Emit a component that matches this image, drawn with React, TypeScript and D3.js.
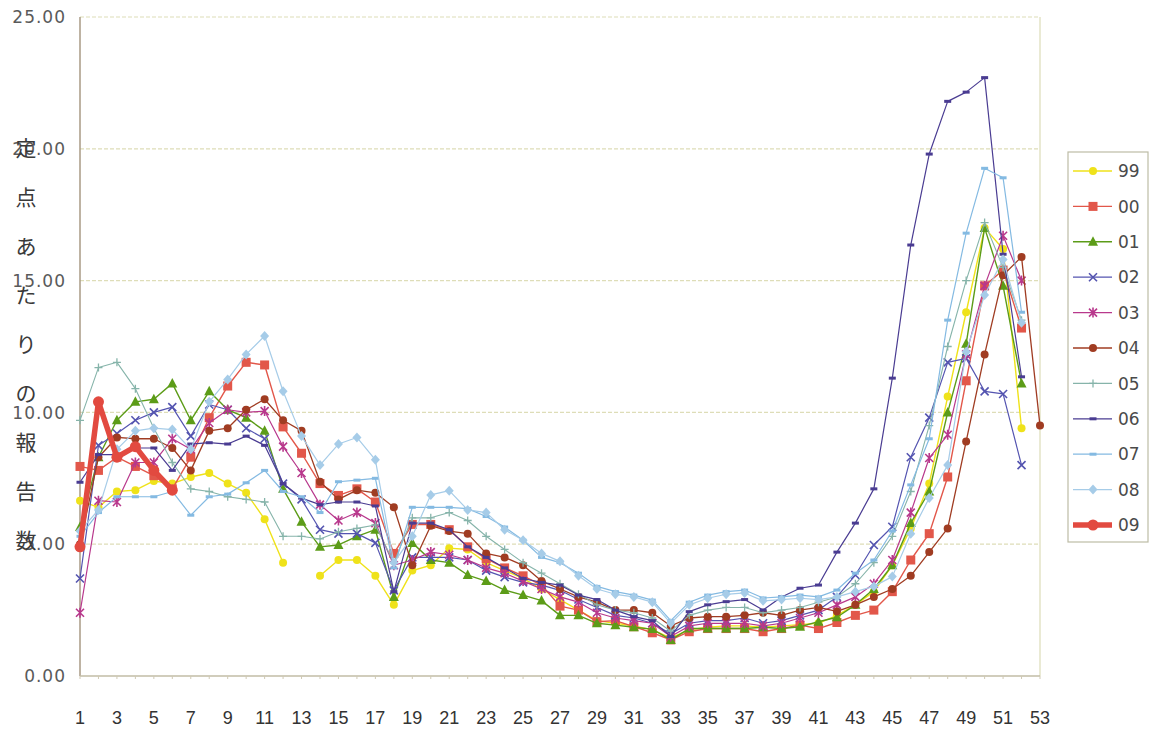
import React from "react";
import * as d3 from "d3";

const weeks = [1,2,3,4,5,6,7,8,9,10,11,12,13,14,15,16,17,18,19,20,21,22,23,24,25,26,27,28,29,30,31,32,33,34,35,36,37,38,39,40,41,42,43,44,45,46,47,48,49,50,51,52,53];
const xTickLabels = [1,3,5,7,9,11,13,15,17,19,21,23,25,27,29,31,33,35,37,39,41,43,45,47,49,51,53];
const yTicks = [0, 5, 10, 15, 20, 25];
const yTitle = "定点あたりの報告数";

const s99 = [6.65,6.4,7.0,7.05,7.4,7.3,7.55,7.7,7.3,6.95, 5.95,4.3,null,3.8,4.4,4.4,3.8,2.7,4.0,4.2, 4.85,4.8,4.3,4.0,3.7,3.3,2.9,2.5,2.1,2.0, 1.9,1.75,1.45,1.75,1.85,1.9,1.9,1.85,1.9,1.95, 2.0,2.3,2.7,3.2,4.2,5.6,7.3,10.6,13.8,17.0, 16.2,9.4,null];
const s00 = [7.95,7.8,8.3,7.95,7.6,7.1,8.3,9.8,11.0,11.9, 11.8,9.45,8.45,7.3,6.85,7.1,6.6,4.65,5.75,5.75, 5.55,4.9,4.45,4.1,3.8,3.45,2.65,2.5,2.06,2.1, 1.87,1.64,1.37,1.68,1.8,1.8,1.8,1.68,1.8,1.93, 1.8,2.03,2.3,2.5,3.2,4.4,5.4,7.55,11.2,14.8, 15.4,13.2,null];
const s01 = [5.65,8.3,9.7,10.4,10.5,11.1,9.7,10.8,10.1,9.8, 9.3,7.1,5.85,4.9,4.97,5.3,5.55,3.0,5.05,4.4, 4.3,3.83,3.6,3.26,3.07,2.86,2.3,2.3,2.0,1.93, 1.85,1.78,1.37,1.8,1.8,1.8,1.8,1.85,1.8,1.87, 2.06,2.23,2.7,3.3,4.2,5.8,7.0,10.0,12.6,17.0, 14.8,11.1,null];
const s02 = [3.7,8.75,9.2,9.7,10.0,10.2,9.1,10.3,10.1,9.4, 9.0,7.3,6.7,5.55,5.4,5.4,5.05,3.25,4.5,4.5, 4.5,4.4,4.0,3.75,3.55,3.45,3.25,2.9,2.6,2.3, 2.2,2.0,1.6,2.0,2.1,2.1,2.2,2.0,2.1,2.3, 2.5,3.0,3.83,4.97,5.66,8.3,9.8,11.9,12.05,10.8, 10.7,8.0,null];
const s03 = [2.4,6.65,6.6,8.1,8.1,9.0,8.6,9.6,10.1,10.0, 10.05,8.7,7.7,6.5,5.9,6.2,5.8,4.2,4.4,4.7, 4.6,4.4,4.1,3.9,3.6,3.3,3.0,2.8,2.4,2.2, 2.1,2.0,1.5,1.9,2.0,2.0,2.0,1.9,2.0,2.2, 2.4,2.7,3.0,3.5,4.4,6.2,8.27,9.15,12.2,14.8, 16.7,15.0,null];
const s04 = [5.0,8.3,9.05,9.0,9.0,8.65,7.8,9.3,9.4,10.1, 10.5,9.7,9.3,7.37,6.7,7.05,6.95,6.4,4.2,5.7, 5.5,5.4,4.65,4.5,4.2,3.6,3.3,3.0,2.8,2.5, 2.5,2.4,1.9,2.2,2.25,2.25,2.3,2.4,2.3,2.5, 2.6,2.45,2.7,3.0,3.3,3.8,4.7,5.6,8.9,12.2, 15.2,15.9,9.5];
const s05 = [9.7,11.7,11.9,10.9,9.4,8.1,7.1,7.0,6.8,6.7, 6.6,5.3,5.3,5.2,5.47,5.6,5.73,4.3,6.0,6.0, 6.2,5.9,5.3,4.8,4.3,3.9,3.5,3.1,2.7,2.5, 2.4,2.2,1.7,2.3,2.5,2.6,2.6,2.4,2.5,2.6, 2.8,3.0,3.5,4.3,5.3,7.0,9.5,12.5,15.0,17.2, 15.5,13.5,null];
const s06 = [7.35,8.4,8.4,8.65,8.65,7.8,8.8,8.85,8.8,9.1, 8.75,7.3,6.75,6.5,6.6,6.6,6.45,3.2,5.8,5.8, 5.55,4.9,4.5,4.1,3.7,3.55,3.45,3.07,2.9,2.5, 2.25,2.1,1.5,2.44,2.7,2.82,2.9,2.5,3.0,3.33, 3.45,4.7,5.8,7.1,11.3,16.35,19.8,21.8,22.15,22.7, 16.0,11.35,null];
const s07 = [5.3,6.2,6.8,6.8,6.8,7.0,6.1,6.8,6.9,7.33, 7.8,7.0,6.8,6.2,7.37,7.43,7.5,4.1,6.4,6.4, 6.4,6.35,6.05,5.65,5.15,4.5,4.3,3.9,3.4,3.2, 3.07,2.88,2.1,2.8,3.07,3.2,3.26,2.96,3.0,3.07, 3.0,3.26,3.9,4.4,5.5,7.25,9.0,13.5,16.8,19.26, 18.9,13.8,null];
const s08 = [5.5,6.3,8.6,9.3,9.4,9.35,8.6,10.4,11.25,12.2, 12.9,10.8,9.1,8.0,8.8,9.05,8.2,4.3,5.3,6.87, 7.03,6.3,6.2,5.55,5.15,4.65,4.35,3.8,3.3,3.1, 3.0,2.8,2.0,2.7,2.95,3.1,3.15,2.85,2.9,2.95, 2.9,3.0,3.2,3.4,3.77,5.4,6.75,8.0,12.3,14.45, 15.8,13.4,null];
const s09 = [4.9,10.4,8.3,8.7,7.8,7.05,null,null,null,null, null,null,null,null,null,null,null,null,null,null, null,null,null,null,null,null,null,null,null,null, null,null,null,null,null,null,null,null,null,null, null,null,null,null,null,null,null,null,null,null, null,null,null];

const seriesNames = ["99","00","01","02","03","04","05","06","07","08","09"];
const seriesData = [s99, s00, s01, s02, s03, s04, s05, s06, s07, s08, s09];
const seriesColors = ["#efe21a","#e2574a","#5c9c18","#5454b0","#b8388c","#a03c22","#86b4aa","#4a3c92","#84bae2","#a6cce8","#e24a40"];
const seriesMarkers = ["circle","square","triangle","x","star","circle","plus","dash","dash","diamond","bigcircle"];
const seriesWidths = [1.4,1.4,1.4,1.2,1.2,1.3,1.1,1.2,1.2,1.2,5.5];

const W = 1155, H = 730;
const L = 80, R = 1040, T = 17, B = 676;

function Marker({ kind, cx, cy, color }: { kind: string; cx: number; cy: number; color: string }) {
  switch (kind) {
    case "circle":
      return <circle cx={cx} cy={cy} r={4} fill={color} />;
    case "bigcircle":
      return <circle cx={cx} cy={cy} r={5.5} fill={color} />;
    case "square":
      return <rect x={cx - 4.5} y={cy - 4.5} width={9} height={9} fill={color} />;
    case "triangle":
      return <path d={`M${cx},${cy - 5.5}L${cx + 5},${cy + 4}L${cx - 5},${cy + 4}Z`} fill={color} />;
    case "diamond":
      return <path d={`M${cx},${cy - 5}L${cx + 4.5},${cy}L${cx},${cy + 5}L${cx - 4.5},${cy}Z`} fill={color} />;
    case "x":
      return <path d={`M${cx - 4},${cy - 4}L${cx + 4},${cy + 4}M${cx + 4},${cy - 4}L${cx - 4},${cy + 4}`} stroke={color} strokeWidth={1.6} />;
    case "star":
      return <path d={`M${cx - 4},${cy - 4}L${cx + 4},${cy + 4}M${cx + 4},${cy - 4}L${cx - 4},${cy + 4}M${cx},${cy - 5}L${cx},${cy + 5}`} stroke={color} strokeWidth={1.6} />;
    case "plus":
      return <path d={`M${cx - 4},${cy}L${cx + 4},${cy}M${cx},${cy - 4}L${cx},${cy + 4}`} stroke={color} strokeWidth={1.3} />;
    case "dash":
      return <rect x={cx - 3.5} y={cy - 1.5} width={7} height={3} fill={color} />;
    default:
      return null;
  }
}

export default function App() {
  const x = d3.scaleLinear().domain([1, 53]).range([L, R]);
  const y = d3.scaleLinear().domain([0, 25]).range([B, T]);

  const lineGen = d3
    .line<number | null>()
    .defined((d) => d !== null)
    .x((_, i) => x(weeks[i]))
    .y((d) => y(d as number));

  const legendX = 1068, legendY = 152, legendW = 80, legendH = 390;
  const legendStep = 35.4;

  return (
    <svg width={W} height={H} style={{ position: "absolute", left: 0, top: 0, background: "#fff" }}>
      <rect x={0} y={0} width={W} height={H} fill="#fff" />
      {yTicks.filter((t) => t > 0).map((t) => (
        <line key={t} x1={L} x2={R} y1={y(t)} y2={y(t)} stroke="#deddb8" strokeWidth={1.2} strokeDasharray="4,2" />
      ))}
      <line x1={R} x2={R} y1={T} y2={B} stroke="#dcdcb8" strokeWidth={1.2} />
      <line x1={L} x2={L} y1={T} y2={B} stroke="#a89a84" strokeWidth={1.5} />
      <line x1={L} x2={R} y1={B} y2={B} stroke="#c2bca6" strokeWidth={1.3} />
      {weeks.map((w) => (
        <line key={w} x1={x(w)} x2={x(w)} y1={B} y2={B + 3} stroke="#cfc9b4" strokeWidth={1} />
      ))}
      {yTicks.map((t) => (
        <text key={t} x={66} y={y(t)} dy="0.36em" textAnchor="end" fontFamily="'DejaVu Sans', sans-serif" fontSize={17} letterSpacing={1} fill="#5a5a5a">
          {t.toFixed(2)}
        </text>
      ))}
      {xTickLabels.map((w) => (
        <text key={w} x={x(w)} y={718} dy="0.36em" textAnchor="middle" fontFamily="'Liberation Sans Narrow', 'Liberation Sans', sans-serif" fontSize={18} fill="#333">
          {w}
        </text>
      ))}
      {Array.from(yTitle).map((ch, i) => (
        <text key={i} x={26} y={148 + i * 49} dy="0.36em" textAnchor="middle" fontFamily="'Noto Sans CJK JP', sans-serif" fontSize={21} fill="#3a3a3a">
          {ch}
        </text>
      ))}
      {seriesData.map((data, si) => (
        <g key={seriesNames[si]}>
          <path d={lineGen(data) || ""} fill="none" stroke={seriesColors[si]} strokeWidth={seriesWidths[si]} strokeLinejoin="round" />
          {data.map((v, i) =>
            v === null ? null : (
              <Marker key={i} kind={seriesMarkers[si]} cx={x(weeks[i])} cy={y(v)} color={seriesColors[si]} />
            )
          )}
        </g>
      ))}
      <rect x={legendX} y={legendY} width={legendW} height={legendH} fill="#fff" stroke="#bdbca6" strokeWidth={1.2} />
      {seriesNames.map((name, i) => {
        const ly = legendY + 19 + i * legendStep;
        return (
          <g key={name}>
            <line x1={1073} x2={1112} y1={ly} y2={ly} stroke={seriesColors[i]} strokeWidth={seriesWidths[i]} />
            <Marker kind={seriesMarkers[i]} cx={1093} cy={ly} color={seriesColors[i]} />
            <text x={1118} y={ly} dy="0.36em" fontFamily="'DejaVu Sans', sans-serif" fontSize={17} fill="#4a4a4a">
              {name}
            </text>
          </g>
        );
      })}
    </svg>
  );
}
